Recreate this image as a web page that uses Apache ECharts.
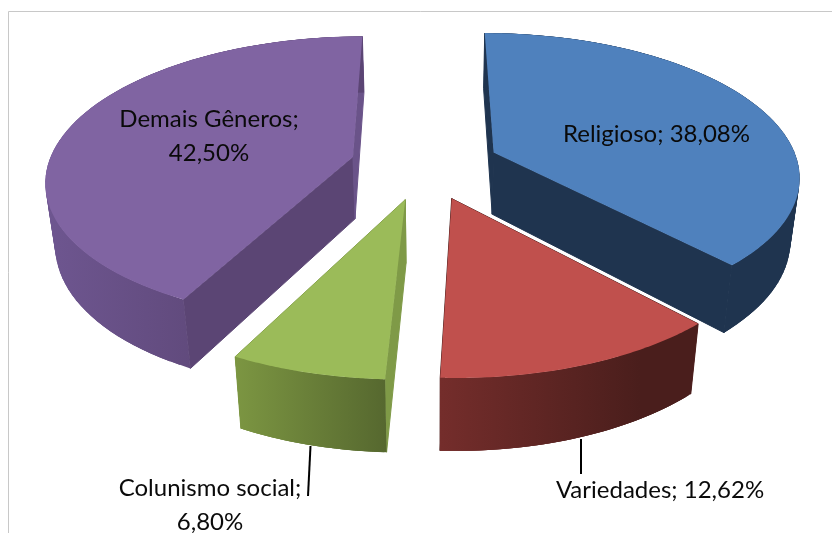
<!DOCTYPE html>
<html><head><meta charset="utf-8">
<script src="https://cdn.jsdelivr.net/npm/echarts@6/dist/echarts.min.js"></script>
<style>html,body{margin:0;padding:0;background:#fff}#c{width:832px;height:533px}</style>
</head><body><div id="c"></div>
<script>
// ---- data ----
const categories = ['Religioso', 'Variedades', 'Colunismo social', 'Demais Gêneros'];
const values = [38.08, 12.62, 6.80, 42.50];
const valueLabels = ['38,08%', '12,62%', '6,80%', '42,50%'];

// ---- 3D projection of the pie (style, not data) ----
const view = { cx: 425, cy: 165, rx: 305, ry: 141, p: 0.151, explode: 0.245 };
const wall = { base: 62, grow: 0.05, vanishX: 435, lean: 0.0004 };
const tops = ['#4F81BD', '#C0504D', '#9BBB59', '#8064A2'];
const startWall = ['#1F344F', '#4E1F1D', '#7F9A47', '#5B4574'];
const endWall = ['#1F344F', '#4E1F1D', '#7F9A47', '#6A5389'];
const outerL = ['#1F344F', '#742D2B', '#7C9642', '#6E5690'];
const outerR = ['#1F344F', '#4A1E1C', '#56682F', '#5B4574'];
const gradX = [[600, 800], [441, 640], [235, 386], [46, 260]];
const labelSpots = [
  { x: 656.5, y: 134, sep: ' ' },
  { x: 660, y: 490, sep: ' ', line: [[581, 439], [581, 474]] },
  { x: 210, y: 505, sep: '\n', line: [[310.5, 446], [308, 496]] },
  { x: 209, y: 136, sep: '\n' }
];
const total = values.reduce((a, b) => a + b, 0);

function project(X, Z) {
  const w = 1 - view.p * Z;
  return [view.cx + view.rx * X / w, view.cy + view.ry * Z / w];
}
function drop(pt) {
  const dy = wall.base + wall.grow * (pt[1] - 160);
  const dx = (wall.vanishX - pt[0]) * wall.lean * dy;
  return [pt[0] + dx, pt[1] + dy];
}

function renderSlice(params, api) {
  const i = params.dataIndex;
  let before = 0;
  for (let k = 0; k < i; k++) before += values[k];
  const a0 = before / total * 2 * Math.PI;
  const a1 = (before + api.value(0)) / total * 2 * Math.PI;
  const mid = (a0 + a1) / 2;
  const ox = view.explode * Math.sin(mid), oz = -view.explode * Math.cos(mid);
  const apex = project(ox, oz);
  const arc = [];
  const steps = 72;
  for (let s = 0; s <= steps; s++) {
    const a = a0 + (a1 - a0) * s / steps;
    arc.push(project(ox + Math.sin(a), oz - Math.cos(a)));
  }
  const arcLow = arc.map(drop);
  const apexLow = drop(apex);
  const children = [];
  children.push({ type: 'polygon', shape: { points: [apex, arc[0], arcLow[0], apexLow] }, style: { fill: startWall[i], stroke: startWall[i], lineWidth: 1 } });
  children.push({ type: 'polygon', shape: { points: [apex, arc[steps], arcLow[steps], apexLow] }, style: { fill: endWall[i], stroke: endWall[i], lineWidth: 1 } });
  const grad = new echarts.graphic.LinearGradient(gradX[i][0], 0, gradX[i][1], 0,
    [{ offset: 0, color: outerL[i] }, { offset: 1, color: outerR[i] }], true);
  // overlapping opaque quads, so no seam shows between neighbours
  for (let s = 0; s < steps; s++) {
    const n = Math.min(s + 3, steps);
    children.push({ type: 'polygon', shape: { points: [arc[s], arc[n], arcLow[n], arcLow[s]] }, style: { fill: grad } });
  }
  children.push({ type: 'polygon', shape: { points: [apex].concat(arc) }, style: { fill: tops[i] } });
  const spot = labelSpots[i];
  if (spot.line) {
    children.push({
      type: 'line',
      shape: { x1: spot.line[0][0], y1: spot.line[0][1], x2: spot.line[1][0], y2: spot.line[1][1] },
      style: { stroke: '#000', lineWidth: 2 }
    });
  }
  children.push({
    type: 'text',
    style: {
      text: categories[i] + ';' + spot.sep + valueLabels[i],
      x: spot.x, y: spot.y, align: 'center', verticalAlign: 'middle',
      font: '24px Lato', lineHeight: 34, fill: '#0a0a0a'
    }
  });
  return { type: 'group', children };
}

const chart = echarts.init(document.getElementById('c'), null, { renderer: 'canvas' });
chart.setOption({
  animation: false,
  backgroundColor: '#fff',
  graphic: [{
    type: 'polyline', silent: true, z: 0,
    shape: { points: [[8.5, 533], [8.5, 11.5], [832, 11.5]] },
    style: { stroke: '#c8c8c8', lineWidth: 1, fill: null }
  }],
  series: [{
    type: 'custom',
    coordinateSystem: 'none',
    renderItem: renderSlice,
    data: values.map(v => [v]),
    silent: true,
    z: 2
  }]
});
</script></body></html>
